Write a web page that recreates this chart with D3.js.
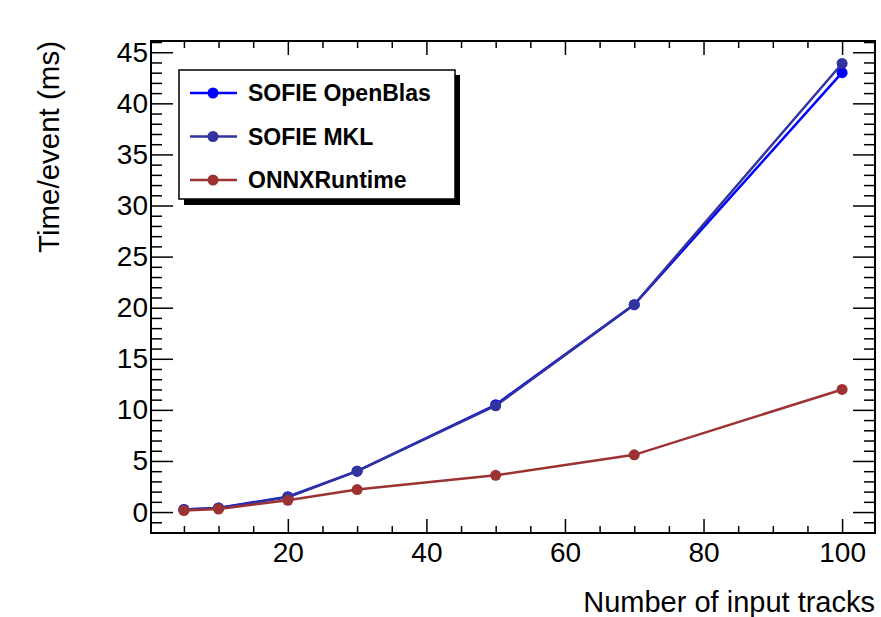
<!DOCTYPE html>
<html>
<head>
<meta charset="utf-8">
<script src="https://cdn.jsdelivr.net/npm/d3@7"></script>
<style>
  body { margin: 0; background: #fff; }
  text { font-family: "Liberation Sans", Arial, Helvetica, sans-serif; }
</style>
</head>
<body>
<svg id="canvas" width="881" height="617"></svg>
<script>
// data
const tracks = [5, 10, 20, 30, 50, 70, 100]
const openblas = [0.25, 0.4, 1.5, 4.0, 10.5, 20.3, 43.0]
const mkl = [0.25, 0.4, 1.45, 4.0, 10.4, 20.3, 43.9]
const onnx = [0.15, 0.3, 1.15, 2.2, 3.6, 5.6, 12.0]

const seriesNames = ["SOFIE OpenBlas", "SOFIE MKL", "ONNXRuntime"]
const seriesColors = ["#0000ff", "#3333a0", "#9c3232"]
const seriesValues = [openblas, mkl, onnx]

const xMajor = [20, 40, 60, 80, 100]
const yMajor = [0, 5, 10, 15, 20, 25, 30, 35, 40, 45]

const svg = d3.select("#canvas")
const frame = { left: 151, right: 875, top: 41, bottom: 533 }

const x = d3.scaleLinear().domain([0.25, 104.75]).range([frame.left, frame.right])
const y = d3.scaleLinear().domain([-2.05, 46.1]).range([frame.bottom, frame.top])

// minor ticks
const xMinor = d3.range(5, 105, 5).filter(v => xMajor.indexOf(v) < 0)
const yMinor = d3.range(-2, 47, 1).filter(v => yMajor.indexOf(v) < 0)

const g = svg.append("g")

// bottom axis + labels
const xAxis = d3.axisBottom(x).tickValues(xMajor).tickSize(-14).tickPadding(9).tickFormat(d3.format("d"))
const gx = g.append("g").attr("transform", `translate(0,${frame.bottom})`).call(xAxis)
gx.select(".domain").remove()
gx.selectAll("text").attr("font-size", 28).attr("fill", "#000").attr("font-family", "Liberation Sans, Arial, sans-serif")

g.append("g").attr("transform", `translate(0,${frame.bottom})`)
  .call(d3.axisBottom(x).tickValues(xMinor).tickSize(-7).tickFormat(""))
  .select(".domain").remove()

// top axis ticks
g.append("g").attr("transform", `translate(0,${frame.top})`)
  .call(d3.axisTop(x).tickValues(xMajor).tickSize(-14).tickFormat(""))
  .select(".domain").remove()
g.append("g").attr("transform", `translate(0,${frame.top})`)
  .call(d3.axisTop(x).tickValues(xMinor).tickSize(-7).tickFormat(""))
  .select(".domain").remove()

// left axis + labels
const yAxis = d3.axisLeft(y).tickValues(yMajor).tickSize(-22).tickPadding(3)
const gy = g.append("g").attr("transform", `translate(${frame.left},0)`).call(yAxis)
gy.select(".domain").remove()
gy.selectAll("text").attr("font-size", 28).attr("fill", "#000").attr("font-family", "Liberation Sans, Arial, sans-serif")

g.append("g").attr("transform", `translate(${frame.left},0)`)
  .call(d3.axisLeft(y).tickValues(yMinor).tickSize(-11).tickFormat(""))
  .select(".domain").remove()

// right axis ticks
g.append("g").attr("transform", `translate(${frame.right},0)`)
  .call(d3.axisRight(y).tickValues(yMajor).tickSize(-22).tickFormat(""))
  .select(".domain").remove()
g.append("g").attr("transform", `translate(${frame.right},0)`)
  .call(d3.axisRight(y).tickValues(yMinor).tickSize(-11).tickFormat(""))
  .select(".domain").remove()

g.selectAll(".tick line").attr("stroke", "#000").attr("stroke-width", 1.5)

// frame
g.append("rect")
  .attr("x", frame.left).attr("y", frame.top)
  .attr("width", frame.right - frame.left).attr("height", frame.bottom - frame.top)
  .attr("fill", "none").attr("stroke", "#000").attr("stroke-width", 2)

// axis titles
svg.append("text")
  .attr("x", frame.right).attr("y", 612)
  .attr("text-anchor", "end").attr("font-size", 29)
  .text("Number of input tracks")

svg.append("text")
  .attr("transform", `translate(59,${frame.top}) rotate(-90)`)
  .attr("text-anchor", "end").attr("font-size", 29.5)
  .text("Time/event (ms)")

// series
const line = d3.line().x(d => x(d[0])).y(d => y(d[1]))

seriesValues.forEach((vals, i) => {
  const pts = tracks.map((t, j) => [t, vals[j]])
  const s = svg.append("g")
  s.append("path")
    .attr("d", line(pts))
    .attr("fill", "none")
    .attr("stroke", seriesColors[i])
    .attr("stroke-width", 2.5)
  s.selectAll("circle").data(pts).enter().append("circle")
    .attr("cx", d => x(d[0]))
    .attr("cy", d => y(d[1]))
    .attr("r", 5.5)
    .attr("fill", seriesColors[i])
})

// legend
const lg = svg.append("g")
lg.append("rect").attr("x", 184).attr("y", 75).attr("width", 276).attr("height", 130).attr("fill", "#000")
lg.append("rect").attr("x", 179).attr("y", 70).attr("width", 276).attr("height", 129)
  .attr("fill", "#fff").attr("stroke", "#000").attr("stroke-width", 1.5)

seriesNames.forEach((name, i) => {
  const cy = 93 + i * 43.5
  lg.append("line").attr("x1", 190).attr("x2", 237).attr("y1", cy).attr("y2", cy)
    .attr("stroke", seriesColors[i]).attr("stroke-width", 2.5)
  lg.append("circle").attr("cx", 213).attr("cy", cy).attr("r", 5.5).attr("fill", seriesColors[i])
  lg.append("text").attr("x", 248).attr("y", cy).attr("dy", "0.36em")
    .attr("font-size", 23).attr("font-weight", "bold")
    .text(name)
})
</script>
</body>
</html>
